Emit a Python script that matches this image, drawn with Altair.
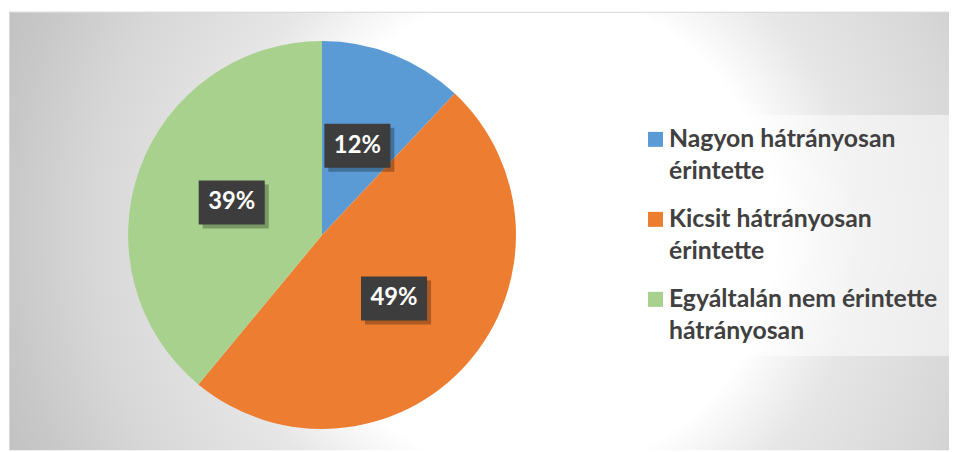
import altair as alt
import pandas as pd

categories = ["Nagyon hátrányosan érintette", "Kicsit hátrányosan érintette",
              "Egyáltalán nem érintette hátrányosan"]
legend_lines = ["Nagyon hátrányosan\nérintette", "Kicsit hátrányosan\nérintette",
                "Egyáltalán nem érintette\nhátrányosan"]
values = [12, 49, 39]
colors = ["#5B9BD5", "#ED7D31", "#A9D18E"]
order_idx = [0, 1, 2]

df = pd.DataFrame({"cat": categories, "legend": legend_lines, "value": values, "idx": order_idx})
one = pd.DataFrame({"a": [0]})

W, H = 948, 442
CX, CY, R = 315.7, 225.0, 195.6
LR = 96.8
BW, BH = 33.3, 22.2

color_scale = alt.Scale(domain=categories, range=colors)

gradient = {
    "gradient": "radial",
    "x1": 0.5, "y1": 0.5, "r1": 0,
    "x2": 0.5, "y2": 0.5, "r2": 0.5,
    "stops": [
        {"offset": 0.0, "color": "#ffffff"},
        {"offset": 0.40, "color": "#ffffff"},
        {"offset": 0.54, "color": "#e6e6e6"},
        {"offset": 0.74, "color": "#d7d7d7"},
        {"offset": 0.88, "color": "#c8c8c8"},
        {"offset": 1.0, "color": "#bdbdbd"},
    ],
}

bg = alt.Chart(one).mark_rect(clip=True, fill=gradient).encode(
    x=alt.value(530 - 605), x2=alt.value(530 + 605),
    y=alt.value(223 - 605), y2=alt.value(223 + 605),
)

border_top = alt.Chart(one).mark_rule(color="#d9d9d9").encode(
    x=alt.value(0), x2=alt.value(W), y=alt.value(0.5))
border_left = alt.Chart(one).mark_rule(color="#d9d9d9").encode(
    x=alt.value(0.5), y=alt.value(0), y2=alt.value(H))

base = alt.Chart(df)

pie = base.mark_arc(outerRadius=R).encode(
    theta=alt.Theta("value:Q", stack=True),
    color=alt.Color("cat:N", scale=color_scale, legend=None),
    order=alt.Order("idx:Q"),
    x=alt.value(CX), y=alt.value(CY),
)

lab = base.transform_joinaggregate(total="sum(value)").transform_window(
    cum="sum(value)", sort=[alt.SortField("idx")], frame=[None, 0]
).transform_calculate(
    mid="2*PI*(datum.cum - datum.value/2)/datum.total",
).transform_calculate(
    px=f"{CX} + {LR}*sin(datum.mid)",
    py=f"{CY} - {LR}*cos(datum.mid)",
).transform_calculate(
    bx1=f"datum.px-{BW}", bx2=f"datum.px+{BW}",
    by1=f"datum.py-{BH}", by2=f"datum.py+{BH}",
    sx1=f"datum.px-{BW}+4", sx2=f"datum.px+{BW}+4",
    sy1=f"datum.py-{BH}+4", sy2=f"datum.py+{BH}+4",
    pct="format(datum.value/datum.total, '.0%')",
)

shadow = lab.mark_rect(color="black", opacity=0.28).encode(
    x=alt.X("sx1:Q", scale=None, axis=None), x2="sx2:Q",
    y=alt.Y("sy1:Q", scale=None, axis=None), y2="sy2:Q",
)
box = lab.mark_rect(color="#3d3d3d").encode(
    x=alt.X("bx1:Q", scale=None, axis=None), x2="bx2:Q",
    y=alt.Y("by1:Q", scale=None, axis=None), y2="by2:Q",
)
txt = lab.mark_text(font="Lato", fontWeight="bold", fontSize=24, color="white",
                    align="center", baseline="middle").encode(
    x=alt.X("px:Q", scale=None, axis=None),
    y=alt.Y("py:Q", scale=None, axis=None),
    text="pct:N",
)

legend_box = alt.Chart(one).mark_rect(fill="white", fillOpacity=0.5).encode(
    x=alt.value(630.3), x2=alt.value(W), y=alt.value(104), y2=alt.value(347))

leg_sym = base.transform_calculate(ly="128.6 + 80.67*datum.idx").mark_square(
    size=229, opacity=1).encode(
    x=alt.value(652.0),
    y=alt.Y("ly:Q", scale=None, axis=None),
    color=alt.Color("cat:N", scale=color_scale, legend=None),
)
leg_txt = base.transform_calculate(ty="136.5 + 80.67*datum.idx").mark_text(
    align="left", baseline="alphabetic", lineBreak="\n", lineHeight=32.3,
    font="Lato", fontWeight="bold", fontSize=25, color="#404040").encode(
    x=alt.value(665.6),
    y=alt.Y("ty:Q", scale=None, axis=None),
    text="legend:N",
)

chart = alt.layer(
    bg, border_top, border_left, pie, shadow, box, txt, legend_box, leg_sym, leg_txt
).properties(
    width=W, height=H,
    padding={"left": 1, "top": 2, "right": 0, "bottom": 0},
    autosize=alt.AutoSizeParams(type="none"),
    background="white",
).configure_view(stroke=None)

chart.save("out.html", embed_options={"renderer": "svg", "actions": False})
